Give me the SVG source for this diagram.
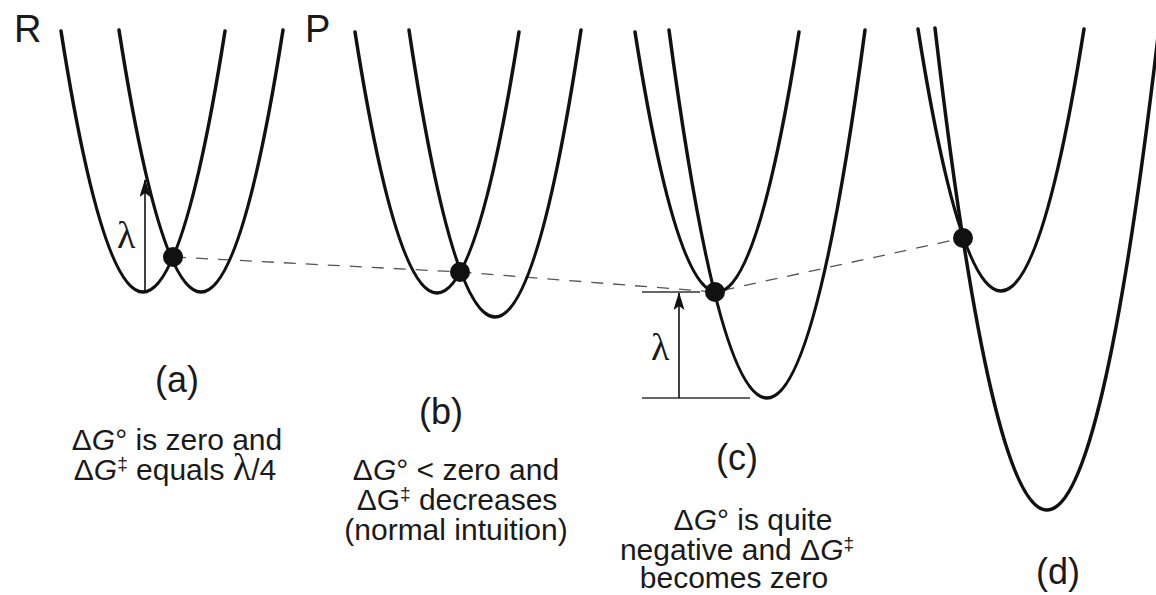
<svg xmlns="http://www.w3.org/2000/svg" width="1156" height="595" viewBox="0 0 1156 595">
  <style>
    .curve { fill: none; stroke: #111; stroke-width: 3.5; stroke-linecap: round; }
    .dot { fill: #111; }
    .dash { fill: none; stroke: #555; stroke-width: 1.3; stroke-dasharray: 12 10; }
    .thin { fill: none; stroke: #333; stroke-width: 1.3; }
    .arrow { fill: none; stroke: #111; stroke-width: 1.6; }
    .lbl { font-family: "Liberation Sans", Arial, sans-serif; fill: #1a1a1a; }
    .big { font-size: 36px; text-anchor: middle; }
    .cap { font-size: 30px; text-anchor: middle; }
    .lam { font-family: "Liberation Serif", "Times New Roman", serif; font-size: 38px; fill: #1a1a1a; }
    .sup { font-size: 19px; }
  </style>
  <defs>
    <marker id="ah" markerWidth="18" markerHeight="11" refX="17" refY="5.5" orient="auto" markerUnits="userSpaceOnUse" viewBox="0 0 18 11">
      <path d="M0,0 L18,5.5 L0,11 L4,5.5 Z" fill="#111"/>
    </marker>
  </defs>
  <rect width="1156" height="595" fill="#fff"/>

  <g id="connectors">
    <polyline class="dash" points="174,257 460,272 715,292 963,238"/>
  </g>

  <g id="panel-a">
    <text class="lbl" x="14" y="42" font-size="38">R</text>
    <path class="curve" d="M61,31 Q143,553 225,31"/>
    <path class="curve" d="M119,30 Q201,554 283,30"/>
    <line class="arrow" x1="145" y1="292" x2="145" y2="180" marker-end="url(#ah)"/>
    <text class="lam" x="117" y="248">λ</text>
    <circle class="dot" cx="173" cy="257" r="10"/>
    <text class="lbl big" x="177" y="392">(a)</text>
    <text class="lbl cap" x="177" y="450">Δ<tspan font-style="italic">G</tspan>° is zero and</text>
    <text class="lbl cap" x="175" y="480">Δ<tspan font-style="italic">G</tspan><tspan class="sup" dy="-10">‡</tspan><tspan dy="10"> equals </tspan><tspan class="lam" font-size="30">λ</tspan>/4</text>
  </g>

  <g id="panel-b">
    <text class="lbl" x="305" y="42" font-size="38">P</text>
    <path class="curve" d="M355,32 Q437,554 519,32"/>
    <path class="curve" d="M409,30 Q495,604 581,30"/>
    <circle class="dot" cx="460" cy="272" r="10"/>
    <text class="lbl big" x="441" y="424">(b)</text>
    <text class="lbl cap" x="456" y="480">Δ<tspan font-style="italic">G</tspan>° &lt; zero and</text>
    <text class="lbl cap" x="457" y="510">ΔG<tspan class="sup" dy="-10">‡</tspan><tspan dy="10"> decreases</tspan></text>
    <text class="lbl cap" x="456" y="540">(normal intuition)</text>
  </g>

  <g id="panel-c">
    <path class="curve" d="M635,32 Q717,552 799,32"/>
    <path class="curve" d="M669,30 Q767,766 865,30"/>
    <line class="thin" x1="642" y1="292" x2="700" y2="292"/>
    <line class="thin" x1="642" y1="398" x2="750" y2="398"/>
    <line class="arrow" x1="679" y1="398" x2="679" y2="293" marker-end="url(#ah)"/>
    <text class="lam" x="651" y="360">λ</text>
    <circle class="dot" cx="715" cy="292" r="10"/>
    <text class="lbl big" x="737" y="470">(c)</text>
    <text class="lbl cap" x="753" y="530">Δ<tspan font-style="italic">G</tspan>° is quite</text>
    <text class="lbl cap" x="737" y="560">negative and Δ<tspan font-style="italic">G</tspan><tspan class="sup" dy="-10">‡</tspan></text>
    <text class="lbl cap" x="734" y="588">becomes zero</text>
  </g>

  <g id="panel-d">
    <path class="curve" d="M918,29 Q1001,553 1084,29"/>
    <path class="curve" d="M935,28 Q1047,992 1159,28"/>
    <circle class="dot" cx="963" cy="238" r="10"/>
    <text class="lbl big" x="1058" y="584">(d)</text>
  </g>
</svg>
